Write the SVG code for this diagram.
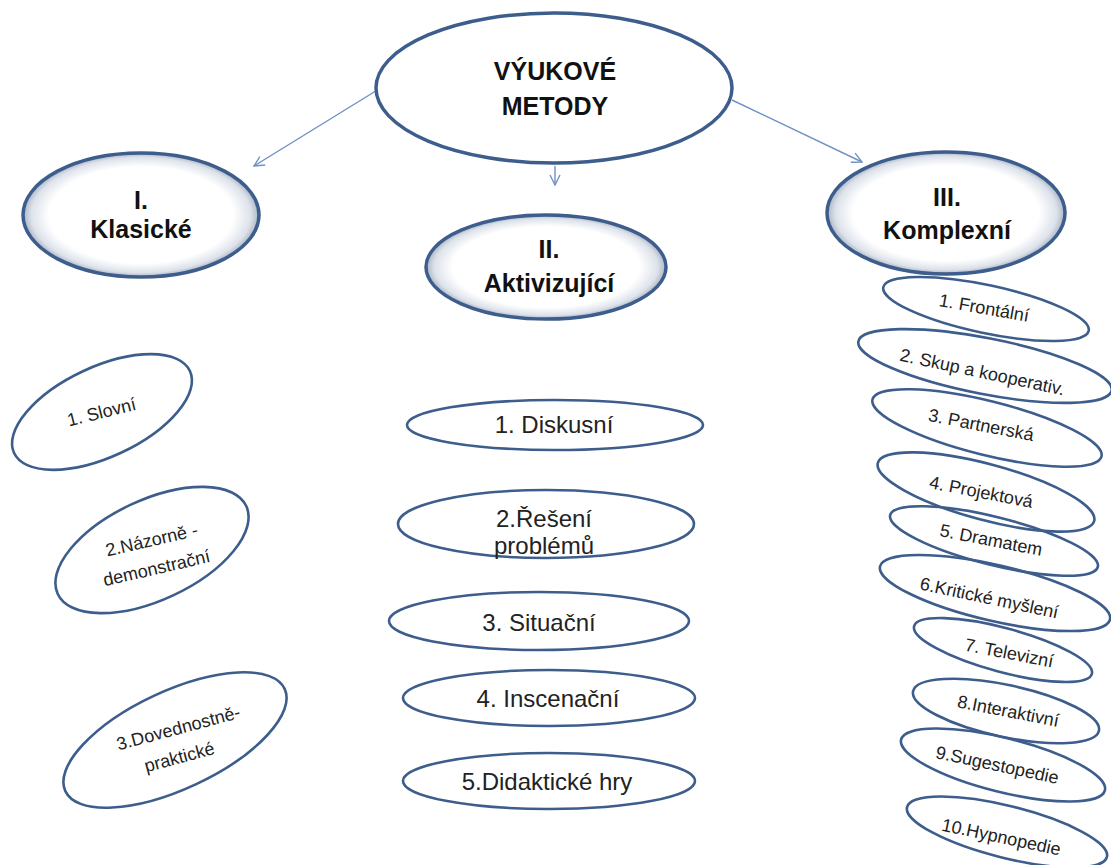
<svg xmlns="http://www.w3.org/2000/svg" width="1111" height="865" viewBox="0 0 1111 865">
<defs>
<radialGradient id="glow" cx="50%" cy="50%" r="50%">
<stop offset="0" stop-color="#ffffff"/>
<stop offset="0.78" stop-color="#ffffff"/>
<stop offset="0.93" stop-color="#dde2ea"/>
<stop offset="1" stop-color="#a9b4c6"/>
</radialGradient>
<marker id="arr" viewBox="0 0 12 12" refX="11" refY="6" markerWidth="12" markerHeight="12" markerUnits="userSpaceOnUse" orient="auto">
<path d="M1,1 L11,6 L1,11" fill="none" stroke="#6f91c4" stroke-width="1.4"/>
</marker>
<style>
.hdr{fill:url(#glow);stroke:#3d5d8c;stroke-width:3.5}
.top{fill:#ffffff;stroke:#3d5d8c;stroke-width:3.5}
.el{fill:none;stroke:#3d5d8c;stroke-width:2.6}
.elw{fill:#ffffff;stroke:#3d5d8c;stroke-width:2.6}
.ht{font-family:"Liberation Sans",Arial,sans-serif;font-weight:bold;font-size:25px;fill:#111;text-anchor:middle}
.mt{font-family:"Liberation Sans",Arial,sans-serif;font-size:24px;fill:#222;text-anchor:middle}
.lt{font-family:"Liberation Sans",Arial,sans-serif;font-size:18px;fill:#222;text-anchor:middle}
.rt{font-family:"Liberation Sans",Arial,sans-serif;font-size:18px;fill:#222;text-anchor:middle}
.con{stroke:#6f91c4;stroke-width:1.4;fill:none;marker-end:url(#arr)}
</style>
</defs>
<rect width="1111" height="865" fill="#ffffff"/>

<g id="connectors">
<line class="con" x1="379" y1="89" x2="254" y2="166"/>
<line class="con" x1="555" y1="166" x2="555" y2="185"/>
<line class="con" x1="732" y1="100" x2="862" y2="162"/>
</g>

<g id="root">
<ellipse class="top" cx="554" cy="88" rx="178" ry="75"/>
<text class="ht" x="555" y="80">VÝUKOVÉ</text>
<text class="ht" x="555" y="115">METODY</text>
</g>

<g id="klasicke">
<ellipse class="hdr" cx="141" cy="215" rx="118" ry="62"/>
<text class="ht" x="141" y="209">I.</text>
<text class="ht" x="141" y="238">Klasické</text>
</g>

<g id="aktivizujici">
<ellipse class="hdr" cx="546" cy="267" rx="120" ry="52"/>
<text class="ht" x="549" y="258">II.</text>
<text class="ht" x="549" y="292">Aktivizující</text>
</g>

<g id="komplexni">
<ellipse class="hdr" cx="946" cy="213" rx="119" ry="61"/>
<text class="ht" x="947" y="206">III.</text>
<text class="ht" x="947" y="239">Komplexní</text>
</g>

<g id="k1">
<ellipse class="el" cx="102" cy="412" rx="97" ry="45" transform="rotate(-25 102 412)"/>
<text class="lt" transform="translate(103 418) rotate(-14)">1. Slovní</text>
</g>
<g id="k2">
<ellipse class="el" cx="152" cy="550" rx="104" ry="50" transform="rotate(-25 152 550)"/>
<text class="lt" transform="translate(153 546) rotate(-13)">2.Názorně  -</text>
<text class="lt" transform="translate(158 574) rotate(-13)">demonstrační</text>
</g>
<g id="k3">
<ellipse class="el" cx="175" cy="740" rx="121" ry="49" transform="rotate(-25 175 740)"/>
<text class="lt" transform="translate(180 734) rotate(-15)">3.Dovednostně-</text>
<text class="lt" transform="translate(181 763) rotate(-15)">praktické</text>
</g>

<g id="a1">
<ellipse class="el" cx="555" cy="425" rx="148" ry="25"/>
<text class="mt" x="554" y="433">1. Diskusní</text>
</g>
<g id="a2">
<ellipse class="el" cx="546" cy="524" rx="148" ry="34"/>
<text class="mt" x="544" y="527">2.Řešení</text>
<text class="mt" x="544" y="554">problémů</text>
</g>
<g id="a3">
<ellipse class="el" cx="539" cy="621" rx="150" ry="29"/>
<text class="mt" x="539" y="631">3. Situační</text>
</g>
<g id="a4">
<ellipse class="el" cx="549" cy="698" rx="146" ry="28"/>
<text class="mt" x="548" y="707">4. Inscenační</text>
</g>
<g id="a5">
<ellipse class="el" cx="549" cy="781" rx="146" ry="28"/>
<text class="mt" x="547" y="790">5.Didaktické hry</text>
</g>

<g id="r1">
<ellipse class="el" cx="986" cy="309" rx="105" ry="24" transform="rotate(12 986 309)"/>
<text class="rt" transform="translate(983 314) rotate(10)">1. Frontální</text>
</g>
<g id="r2">
<ellipse class="el" cx="985" cy="366" rx="129" ry="28" transform="rotate(11 985 366)"/>
<text class="rt" transform="translate(981 378) rotate(12)">2. Skup a kooperativ.</text>
</g>
<g id="r3">
<ellipse class="el" cx="987" cy="428" rx="118" ry="27" transform="rotate(14 987 428)"/>
<text class="rt" transform="translate(980 431) rotate(11)">3. Partnerská</text>
</g>
<g id="r4">
<ellipse class="el" cx="986" cy="492" rx="112" ry="28" transform="rotate(15 986 492)"/>
<text class="rt" transform="translate(980 498) rotate(11)">4. Projektová</text>
</g>
<g id="r5">
<ellipse class="el" cx="994" cy="541" rx="107" ry="24" transform="rotate(14 994 541)"/>
<text class="rt" transform="translate(990 546) rotate(11)">5. Dramatem</text>
</g>
<g id="r6">
<ellipse class="el" cx="995" cy="593" rx="118" ry="28" transform="rotate(13 995 593)"/>
<text class="rt" transform="translate(988 604) rotate(12)">6.Kritické myšlení</text>
</g>
<g id="r7">
<ellipse class="el" cx="1003" cy="650" rx="92" ry="22" transform="rotate(15 1003 650)"/>
<text class="rt" transform="translate(1008 659) rotate(11)">7. Televizní</text>
</g>
<g id="r8">
<ellipse class="el" cx="1006" cy="711" rx="95" ry="26" transform="rotate(12 1006 711)"/>
<text class="rt" transform="translate(1007 717) rotate(11)">8.Interaktivní</text>
</g>
<g id="r9">
<ellipse class="el" cx="1003" cy="765" rx="105" ry="27" transform="rotate(14 1003 765)"/>
<text class="rt" transform="translate(996 771) rotate(12)">9.Sugestopedie</text>
</g>
<g id="r10">
<ellipse class="el" cx="1007" cy="832" rx="103" ry="26" transform="rotate(14 1007 832)"/>
<text class="rt" transform="translate(1000 843) rotate(12)">10.Hypnopedie</text>
</g>
</svg>
